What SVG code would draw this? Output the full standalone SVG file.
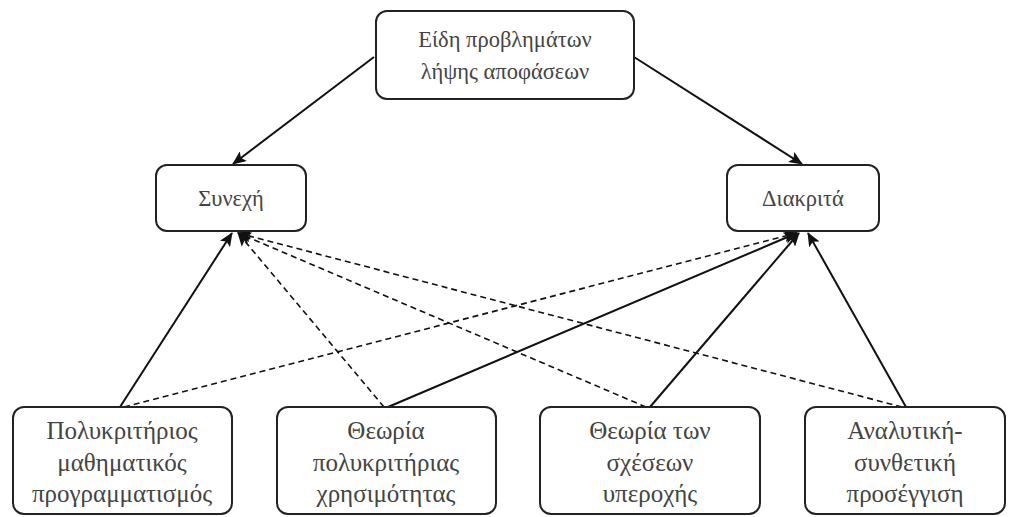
<svg xmlns="http://www.w3.org/2000/svg" width="1013" height="517" viewBox="0 0 1013 517">
<defs>
<marker id="ah" markerWidth="14" markerHeight="12" refX="13" refY="6" orient="auto" markerUnits="userSpaceOnUse">
<path d="M0,0 L14,6 L0,12 L3,6 Z" fill="#111"/>
</marker>
<style>
.box{fill:#fff;stroke:#222;stroke-width:2}
.t{font-family:"Liberation Serif","DejaVu Serif",serif;font-size:22.5px;fill:#444;text-anchor:middle}
.b{font-size:25px}
.s{stroke:#111;stroke-width:2;fill:none}
.d{stroke:#111;stroke-width:1.6;fill:none;stroke-dasharray:6 4}
</style>
</defs>
<rect width="1013" height="517" fill="#fff"/>
<g id="connectors">
<line class="s" x1="374" y1="57" x2="233" y2="164" marker-end="url(#ah)"/>
<line class="s" x1="634" y1="57" x2="802" y2="164" marker-end="url(#ah)"/>
<line class="s" x1="120" y1="407" x2="232" y2="233" marker-end="url(#ah)"/>
<line class="d" x1="124" y1="407" x2="797" y2="233" marker-end="url(#ah)"/>
<line class="d" x1="384" y1="407" x2="238" y2="233" marker-end="url(#ah)"/>
<line class="s" x1="388" y1="407" x2="797" y2="233" marker-end="url(#ah)"/>
<line class="d" x1="646" y1="407" x2="238" y2="233" marker-end="url(#ah)"/>
<line class="s" x1="650" y1="407" x2="799" y2="233" marker-end="url(#ah)"/>
<line class="d" x1="902" y1="407" x2="238" y2="233" marker-end="url(#ah)"/>
<line class="s" x1="906" y1="407" x2="808" y2="233" marker-end="url(#ah)"/>
</g>
<g id="top">
<rect class="box" x="376" y="11" width="258" height="88" rx="11"/>
<text class="t" x="505" y="47">Είδη προβλημάτων</text>
<text class="t" x="505" y="79">λήψης αποφάσεων</text>
</g>
<g id="synechi">
<rect class="box" x="156" y="165" width="150" height="66" rx="11"/>
<text class="t" x="231" y="206">Συνεχή</text>
</g>
<g id="diakrita">
<rect class="box" x="727" y="165" width="152" height="66" rx="11"/>
<text class="t" x="803" y="206">Διακριτά</text>
</g>
<g id="b1">
<rect class="box" x="13" y="407" width="219" height="107" rx="11"/>
<text class="t b" x="122" y="439">Πολυκριτήριος</text>
<text class="t b" x="122" y="471">μαθηματικός</text>
<text class="t b" x="122" y="502">προγραμματισμός</text>
</g>
<g id="b2">
<rect class="box" x="277" y="407" width="219" height="107" rx="11"/>
<text class="t b" x="386" y="439">Θεωρία</text>
<text class="t b" x="386" y="471">πολυκριτήριας</text>
<text class="t b" x="386" y="502">χρησιμότητας</text>
</g>
<g id="b3">
<rect class="box" x="540" y="407" width="220" height="107" rx="11"/>
<text class="t b" x="650" y="439">Θεωρία των</text>
<text class="t b" x="650" y="471">σχέσεων</text>
<text class="t b" x="650" y="502">υπεροχής</text>
</g>
<g id="b4">
<rect class="box" x="805" y="407" width="200" height="107" rx="11"/>
<text class="t b" x="905" y="439">Αναλυτική-</text>
<text class="t b" x="905" y="471">συνθετική</text>
<text class="t b" x="905" y="502">προσέγγιση</text>
</g>
</svg>
